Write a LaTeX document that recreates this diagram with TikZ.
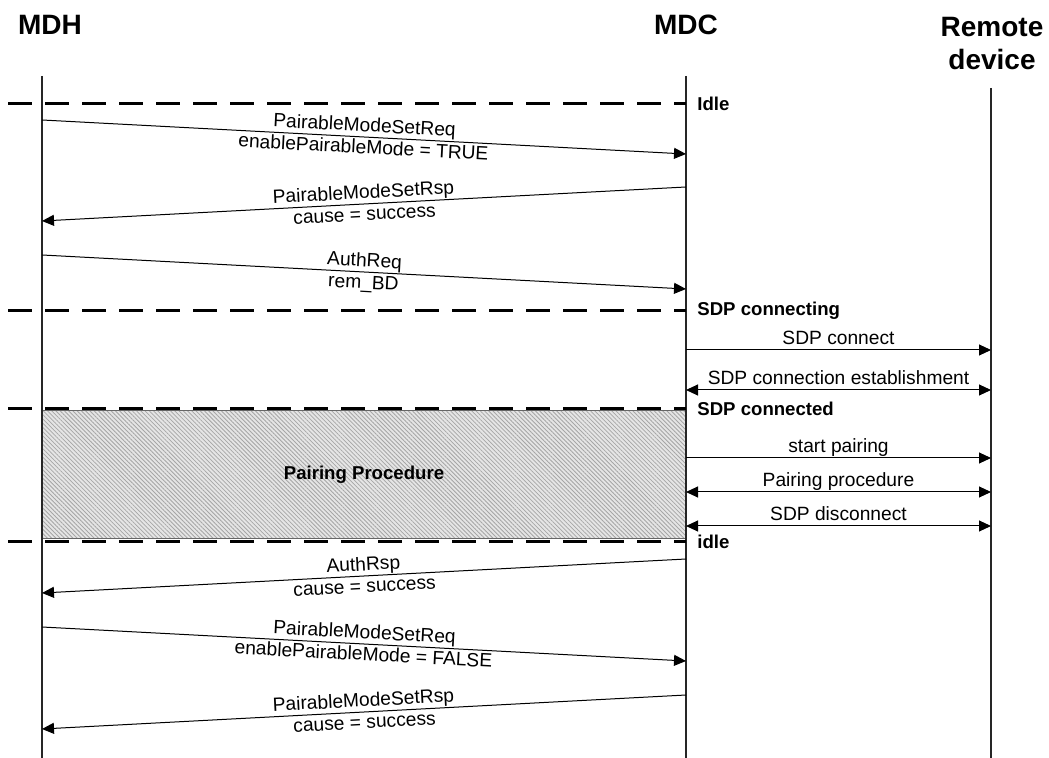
\documentclass[tikz,border=0pt]{standalone}
\usepackage{fontspec}
\setmainfont{Liberation Sans}
\usetikzlibrary{arrows.meta,calc,patterns.meta}

\begin{document}
\begin{tikzpicture}[x=0.5pt,y=-0.5pt,
  head/.style={font=\bfseries\fontsize{14}{16.5}\selectfont, align=center, inner sep=0pt},
  lifeline/.style={line width=0.75pt, black!85},
  phase/.style={line width=1.5pt, dash pattern=on 12pt off 6.5pt},
  statelbl/.style={anchor=west, font=\bfseries\fontsize{9.3}{11}\selectfont, inner sep=0pt},
  msg/.style={line width=0.5pt, -{Triangle[length=6pt,width=5.5pt]}},
  both/.style={line width=0.5pt, {Triangle[length=6pt,width=5.5pt]}-{Triangle[length=6pt,width=5.5pt]}},
  lbl/.style={font=\fontsize{9.6}{11}\selectfont, inner sep=0pt, anchor=base},
  uplbl/.style={lbl, yshift=2.7pt},
  downlbl/.style={lbl, yshift=-8.3pt}]
  \useasboundingbox (0,0) rectangle (1049,758);

  % instance heads
  \node[head] (mdh) at (50,25) {MDH};
  \node[head] (mdc) at (686,25) {MDC};
  \node[head] (rem) at (992,44) {Remote\\device};

  % pairing procedure box (behind the lifelines)
  \coordinate (box nw) at (42,411);
  \coordinate (box se) at (686,539);
  \fill[black!10] (box nw) rectangle (box se);
  \fill[pattern={Lines[angle=-45,distance=1.5pt,line width=0.4pt]}, pattern color=black!35] (box nw) rectangle (box se);
  \draw[black!60, line width=0.5pt] (box nw) rectangle (box se);
  \node[font=\bfseries\fontsize{9.3}{11}\selectfont] (pp) at ($(box nw)!0.5!(box se)$) {Pairing Procedure};

  % lifelines
  \coordinate (mdh top) at (42,76);
  \coordinate (mdh bot) at (42,758);
  \coordinate (mdc top) at (686,76);
  \coordinate (mdc bot) at (686,758);
  \coordinate (rem top) at (991,88);
  \coordinate (rem bot) at (991,758);
  \draw[lifeline] (mdh top) -- (mdh bot);
  \draw[lifeline] (mdc top) -- (mdc bot);
  \draw[lifeline] (rem top) -- (rem bot);

  % state separators
  \coordinate (s1 a) at (8,104);  \coordinate (s1 b) at (686,104);
  \coordinate (s2 a) at (8,311);  \coordinate (s2 b) at (686,311);
  \coordinate (s3 a) at (8,409);  \coordinate (s3 b) at (686,409);
  \coordinate (s4 a) at (8,542);  \coordinate (s4 b) at (686,542);
  \draw[phase] (s1 a) -- (s1 b);
  \draw[phase] (s2 a) -- (s2 b);
  \draw[phase] (s3 a) -- (s3 b);
  \draw[phase] (s4 a) -- (s4 b);
  \node[statelbl] (idle1) at (697,104) {Idle};
  \node[statelbl] (sdping) at (697,311) {SDP connecting};
  \node[statelbl] (sdped) at (697,409) {SDP connected};
  \node[statelbl] (idle2) at (697,542) {idle};

  % MDH <-> MDC
  \coordinate (mdh1) at (42,120);  \coordinate (mdc1) at (686,154);
  \coordinate (mdc2) at (686,187); \coordinate (mdh2) at (42,221);
  \coordinate (mdh3) at (42,255);  \coordinate (mdc3) at (686,289);
  \coordinate (mdc4) at (686,559); \coordinate (mdh4) at (42,593);
  \coordinate (mdh5) at (42,627);  \coordinate (mdc5) at (686,661);
  \coordinate (mdc6) at (686,695); \coordinate (mdh6) at (42,729);
  \draw[msg] (mdh1) -- node[uplbl, sloped] {PairableModeSetReq}
    node[downlbl, sloped] {enablePairableMode = TRUE} (mdc1);
  \draw[msg] (mdc2) -- node[uplbl, sloped] {PairableModeSetRsp}
    node[downlbl, sloped] {cause = success} (mdh2);
  \draw[msg] (mdh3) -- node[uplbl, sloped] {AuthReq}
    node[downlbl, sloped] {rem\_BD} (mdc3);
  \draw[msg] (mdc4) -- node[uplbl, sloped] {AuthRsp}
    node[downlbl, sloped] {cause = success} (mdh4);
  \draw[msg] (mdh5) -- node[uplbl, sloped] {PairableModeSetReq}
    node[downlbl, sloped] {enablePairableMode = FALSE} (mdc5);
  \draw[msg] (mdc6) -- node[uplbl, sloped] {PairableModeSetRsp}
    node[downlbl, sloped] {cause = success} (mdh6);

  % MDC <-> remote device
  \coordinate (mdc7) at (686,350);  \coordinate (rem7) at (991,350);
  \coordinate (mdc8) at (686,390);  \coordinate (rem8) at (991,390);
  \coordinate (mdc9) at (686,458);  \coordinate (rem9) at (991,458);
  \coordinate (mdc10) at (686,492); \coordinate (rem10) at (991,492);
  \coordinate (mdc11) at (686,526); \coordinate (rem11) at (991,526);
  \draw[msg] (mdc7) -- node[uplbl] {SDP connect} (rem7);
  \draw[both] (mdc8) -- node[uplbl] {SDP connection establishment} (rem8);
  \draw[msg] (mdc9) -- node[uplbl] {start pairing} (rem9);
  \draw[both] (mdc10) -- node[uplbl] {Pairing procedure} (rem10);
  \draw[both] (mdc11) -- node[uplbl] {SDP disconnect} (rem11);
\end{tikzpicture}
\end{document}
